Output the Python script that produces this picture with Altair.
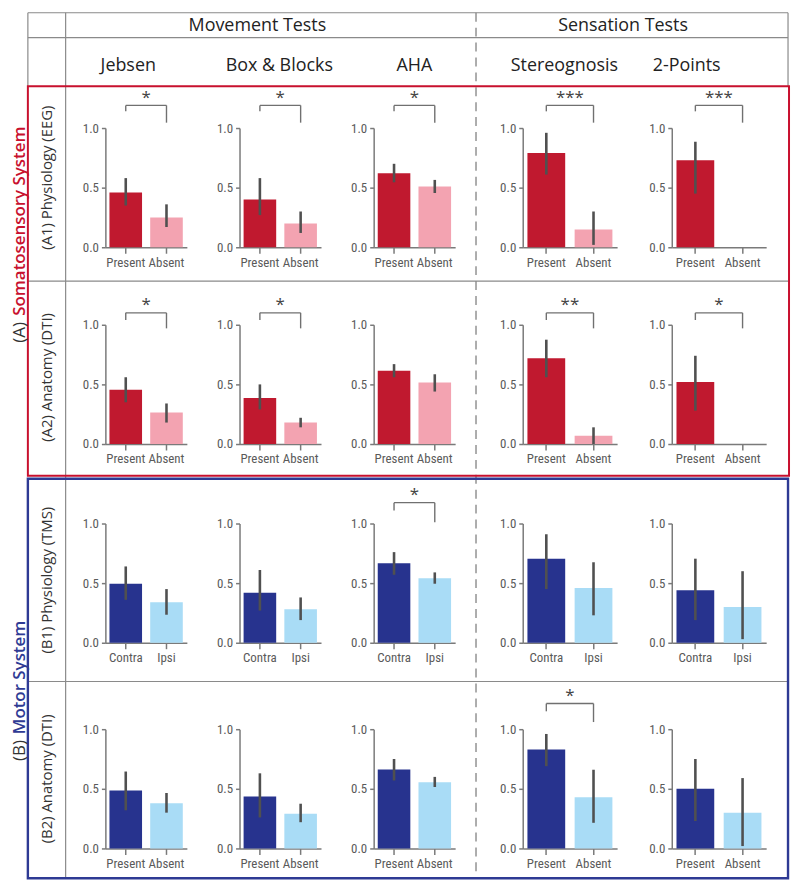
import altair as alt
import pandas as pd

# ---------------- data ----------------
TESTS = ["Jebsen", "Box & Blocks", "AHA", "Stereognosis", "2-Points"]
GROUPS = ["Movement Tests", "Sensation Tests"]
ROWS = ["A1", "A2", "B1", "B2"]
ROW_LABELS = ["(A1)  Physiology (EEG)", "(A2)  Anatomy (DTI)",
              "(B1)  Physiology (TMS)", "(B2)  Anatomy (DTI)"]
SYSTEM_TAGS = ["(A)", "(B)"]
SYSTEM_NAMES = ["Somatosensory System", "Motor System"]
CATS = {"A1": ["Present", "Absent"], "A2": ["Present", "Absent"],
        "B1": ["Contra", "Ipsi"], "B2": ["Present", "Absent"]}

A1_MEAN = [[0.46, 0.25], [0.40, 0.20], [0.62, 0.51], [0.79, 0.15], [0.73, 0.0]]
A1_LO = [[0.35, 0.17], [0.27, 0.12], [0.545, 0.455], [0.61, 0.02], [0.45, None]]
A1_HI = [[0.58, 0.36], [0.58, 0.30], [0.70, 0.565], [0.96, 0.30], [0.885, None]]
A1_SIG = ["*", "*", "*", "***", "***"]

A2_MEAN = [[0.455, 0.265], [0.385, 0.18], [0.615, 0.515], [0.72, 0.07], [0.52, 0.0]]
A2_LO = [[0.35, 0.18], [0.29, 0.14], [0.56, 0.44], [0.56, 0.0], [0.28, None]]
A2_HI = [[0.56, 0.34], [0.50, 0.22], [0.67, 0.585], [0.875, 0.14], [0.74, None]]
A2_SIG = ["*", "*", "", "**", "*"]

B1_MEAN = [[0.495, 0.34], [0.42, 0.28], [0.667, 0.54], [0.705, 0.46], [0.44, 0.30]]
B1_LO = [[0.36, 0.235], [0.27, 0.19], [0.57, 0.495], [0.45, 0.23], [0.19, 0.03]]
B1_HI = [[0.64, 0.45], [0.61, 0.38], [0.76, 0.59], [0.91, 0.675], [0.705, 0.60]]
B1_SIG = ["", "", "*", "", ""]

B2_MEAN = [[0.485, 0.38], [0.435, 0.29], [0.663, 0.556], [0.83, 0.43], [0.50, 0.30]]
B2_LO = [[0.32, 0.30], [0.26, 0.22], [0.57, 0.515], [0.69, 0.215], [0.23, 0.02]]
B2_HI = [[0.645, 0.465], [0.63, 0.375], [0.75, 0.60], [0.96, 0.66], [0.75, 0.59]]
B2_SIG = ["", "", "", "*", ""]

MEANS = {"A1": A1_MEAN, "A2": A2_MEAN, "B1": B1_MEAN, "B2": B2_MEAN}
LOS = {"A1": A1_LO, "A2": A2_LO, "B1": B1_LO, "B2": B2_LO}
HIS = {"A1": A1_HI, "A2": A2_HI, "B1": B1_HI, "B2": B2_HI}
SIGS = {"A1": A1_SIG, "A2": A2_SIG, "B1": B1_SIG, "B2": B2_SIG}

# ---------------- styles / layout ----------------
NARROW = "Liberation Sans Narrow, Roboto Condensed, Roboto, Liberation Sans, sans-serif"
HEAD = "Open Sans"
RED, PINK = "#C0192F", "#F3A3B1"
NAVY, SKY = "#27338E", "#A9DCF6"
RED_BOX, BLUE_BOX = "#C8102E", "#2E3A94"
GRAY = "#8a8a8a"
PALETTE = {"A1": [RED, PINK], "A2": [RED, PINK], "B1": [NAVY, SKY], "B2": [NAVY, SKY]}
# bracket: top, left-leg end, right-leg end, star centre (in data units)
BRACKET = {"A1": (1.19, 1.14, 1.045, 1.28), "A2": (1.10, 1.04, 0.97, 1.19),
           "B1": (1.175, 1.11, 1.01, 1.26), "B2": (1.215, 1.15, 1.06, 1.30)}

PANEL_W = [82, 82, 82, 95, 95]
LEAD_W = [97, 53, 53, 68, 55]
TAIL_W = 25
PANEL_H = 120
ROW_GAPS = [78, 80, 87]
HEADER_H = 117
BOTTOM_PAD = 33
NCOL = 2 * len(TESTS) + 1

ONE = pd.DataFrame({"k": [0]})

XAXIS = alt.Axis(title=None, labelAngle=0, labelOverlap=False)
YAXIS = alt.Axis(title=None, values=[0, 0.5, 1], format=".1f")


def spacer(w, h):
    return (alt.Chart(ONE).mark_text(text="", opacity=0)
            .encode(x=alt.value(w / 2), y=alt.value(h / 2))
            .properties(width=w, height=h))


def panel(row, t):
    cats = CATS[row]
    w = PANEL_W[t]
    xs = alt.Scale(domain=cats, paddingInner=0.2, paddingOuter=0.1)
    ys = alt.Scale(domain=[0, 1])
    df = pd.DataFrame({"cat": cats, "value": MEANS[row][t], "lo": LOS[row][t],
                       "hi": HIS[row][t], "fill": PALETTE[row]})
    X = alt.X("cat:N", scale=xs, axis=XAXIS)
    bars = alt.Chart(df).mark_bar().encode(
        x=X, y=alt.Y("value:Q", scale=ys, axis=YAXIS),
        color=alt.Color("fill:N", scale=None))
    err = alt.Chart(df).mark_rule(color="#505050", strokeWidth=2.6).encode(
        x=X, y=alt.Y("lo:Q", scale=ys, axis=YAXIS), y2=alt.Y2("hi"))
    layers = [bars, err]
    sig = SIGS[row][t]
    if sig:
        top, lend, rend, sy = BRACKET[row]
        legs = pd.DataFrame({"cat": cats, "ytop": [top, top], "yend": [lend, rend]})
        span = pd.DataFrame({"a": [cats[0]], "b": [cats[1]], "ytop": [top],
                             "ys": [sy], "sig": [sig]})
        legs_l = alt.Chart(legs).mark_rule(color="#707070", strokeWidth=1.4).encode(
            x=X, y=alt.Y("yend:Q", scale=ys, axis=YAXIS), y2=alt.Y2("ytop"))
        hline = alt.Chart(span).mark_rule(color="#707070", strokeWidth=1.4).encode(
            x=alt.X("a:N", scale=xs, axis=XAXIS), x2=alt.X2("b"),
            y=alt.Y("ytop:Q", scale=ys, axis=YAXIS))
        # star centred between the two bars: end of first band + half the inner gap
        star = alt.Chart(span).mark_text(font=HEAD, fontSize=17, color="#444444",
                                         baseline="middle", dy=3, dx=0.05 * w).encode(
            x=alt.X("a:N", scale=xs, axis=XAXIS, bandPosition=1),
            y=alt.Y("ys:Q", scale=ys, axis=YAXIS), text="sig:N")
        layers += [legs_l, hline, star]
    return alt.layer(*layers).properties(width=w, height=PANEL_H)


# ---------------- frame / headers (pixel decoration, drawn from first cell) ----------------
gray_lines = pd.DataFrame({
    "x": [19, 19, 19, 784, 57, 19, 19],
    "x2": [784, 784, 19, 784, 57, 785, 784],
    "y": [1, 26, 1, 1, 1, 271, 674],
    "y2": [1, 26, 75, 75, 872, 271, 674],
})
frame = alt.Chart(gray_lines).mark_rule(color=GRAY, strokeWidth=1.2).encode(
    x=alt.X("x:Q", scale=None), x2="x2:Q", y=alt.Y("y:Q", scale=None), y2="y2:Q")
dashed = alt.Chart(ONE).mark_rule(color=GRAY, strokeWidth=1.4, strokeDash=[9, 6]).encode(
    x=alt.value(470), y=alt.value(1), y2=alt.value(872))
red_box = alt.Chart(ONE).mark_rect(filled=False, stroke=RED_BOX, strokeWidth=2).encode(
    x=alt.value(19), x2=alt.value(785), y=alt.value(75), y2=alt.value(467))
blue_box = alt.Chart(ONE).mark_rect(filled=False, stroke=BLUE_BOX, strokeWidth=2.4).encode(
    x=alt.value(19), x2=alt.value(784), y=alt.value(470), y2=alt.value(872))

grp_df = pd.DataFrame({"text": GROUPS, "x": [250, 618], "y": [14, 14]})
grp = alt.Chart(grp_df).mark_text(font=HEAD, fontSize=18, color="#222222").encode(
    x=alt.X("x:Q", scale=None), y=alt.Y("y:Q", scale=None), text="text:N")
test_df = pd.DataFrame({"text": TESTS, "x": [120, 272, 408, 559, 682], "y": [55] * 5})
tst = alt.Chart(test_df).mark_text(font=HEAD, fontSize=18, color="#222222").encode(
    x=alt.X("x:Q", scale=None), y=alt.Y("y:Q", scale=None), text="text:N")
rl_df = pd.DataFrame({"text": ROW_LABELS, "x": [38] * 4, "y": [167, 368, 572, 772]})
rl = alt.Chart(rl_df).mark_text(font=HEAD, fontSize=15, color="#333333", angle=270).encode(
    x=alt.X("x:Q", scale=None), y=alt.Y("y:Q", scale=None), text="text:N")
tag_df = pd.DataFrame({"text": SYSTEM_TAGS, "x": [11, 11], "y": [333, 754]})
tags = alt.Chart(tag_df).mark_text(font=HEAD, fontSize=17, color="#333333", angle=270,
                                   align="left", baseline="middle").encode(
    x=alt.X("x:Q", scale=None), y=alt.Y("y:Q", scale=None), text="text:N")
name_df = pd.DataFrame({"text": SYSTEM_NAMES, "x": [11, 11], "y": [306, 727],
                        "c": [RED_BOX, BLUE_BOX]})
names = alt.Chart(name_df).mark_text(font=HEAD, fontSize=17, fontWeight=600, angle=270,
                                     align="left", baseline="middle").encode(
    x=alt.X("x:Q", scale=None), y=alt.Y("y:Q", scale=None), text="text:N",
    color=alt.Color("c:N", scale=None))

header = alt.layer(frame, dashed, red_box, blue_box, grp, tst, rl, tags, names).properties(
    width=LEAD_W[0], height=HEADER_H)

COL_W = []
for t in range(len(TESTS)):
    COL_W += [LEAD_W[t], PANEL_W[t]]
COL_W.append(TAIL_W)


def spacer_row(h, first=None):
    cells = [first if first is not None else spacer(COL_W[0], h)]
    cells += [spacer(wc, h) for wc in COL_W[1:]]
    return cells


cells = spacer_row(HEADER_H, first=header)
for i, r in enumerate(ROWS):
    for t in range(len(TESTS)):
        cells.append(spacer(LEAD_W[t], PANEL_H))
        cells.append(panel(r, t))
    cells.append(spacer(TAIL_W, PANEL_H))
    if i < len(ROW_GAPS):
        cells += spacer_row(ROW_GAPS[i])
cells += spacer_row(BOTTOM_PAD)

chart = (alt.concat(*cells, columns=NCOL, spacing=0, bounds="flush")
         .resolve_scale(x="independent", y="independent")
         .properties(padding=0)
         .configure_view(stroke="transparent")
         .configure_axis(domainColor="#7a7a7a", domainWidth=1.5, tickColor="#7a7a7a",
                         tickWidth=1.5, labelColor="#5a5a5a", labelFont=NARROW,
                         labelFontSize=13, grid=False)
         .configure_axisX(tickSize=6, labelPadding=3)
         .configure_axisY(tickSize=4, labelPadding=3))

chart.save("out.html", embed_options={"renderer": "svg", "actions": False})
